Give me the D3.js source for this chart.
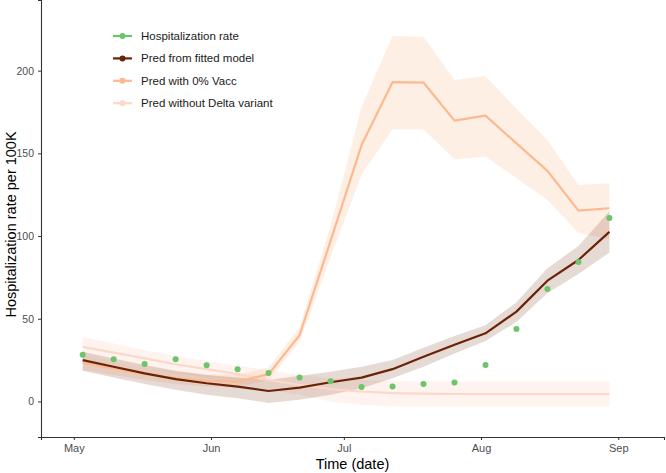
<!DOCTYPE html>
<html>
<head>
<meta charset="utf-8">
<script src="https://cdn.jsdelivr.net/npm/d3@7"></script>
<style>
  html, body { margin: 0; padding: 0; background: #fff; }
  svg { display: block; font-family: "Liberation Sans", Arial, sans-serif; }
</style>
</head>
<body>
<svg id="chart" width="666" height="473"></svg>
<script>
// ---- data (weekly, starting May 3, 2021) ----
const weekStarts = ["2021-05-03","2021-05-10","2021-05-17","2021-05-24","2021-05-31","2021-06-07",
  "2021-06-14","2021-06-21","2021-06-28","2021-07-05","2021-07-12","2021-07-19","2021-07-26",
  "2021-08-02","2021-08-09","2021-08-16","2021-08-23","2021-08-30"];

const hospRate = [28.3, 25.5, 22.7, 25.5, 21.9, 19.5, 17.2, 14.4, 12.2, 8.8, 9.0, 10.6, 11.4, 22.1, 43.8, 68.0, 84.3, 110.9];

const fitted      = [25.0, 21.0, 17.0, 13.5, 11.0, 9.0, 6.3, 8.4, 11.6, 14.4, 19.5, 27.0, 34.3, 41.2, 54.3, 73.0, 85.5, 102.5];
const fittedLow   = [18.5, 14.5, 10.5, 7.0, 4.0, 2.0, -1.0, 1.0, 4.0, 8.0, 14.0, 21.0, 29.0, 36.5, 48.0, 65.5, 77.0, 90.0];
const fittedHigh  = [30.0, 26.0, 22.0, 18.5, 16.0, 14.5, 13.0, 15.5, 18.0, 21.0, 25.0, 32.5, 39.5, 46.0, 60.0, 80.5, 94.0, 115.0];

const noVacc      = [23.5, 20.0, 16.5, 14.0, 12.5, 12.0, 16.5, 40.0, 97.0, 155.0, 193.0, 192.8, 169.8, 172.8, 156.0, 139.4, 115.4, 116.8];
const noVaccLow   = [19.0, 16.0, 13.0, 10.5, 9.0, 8.5, 13.0, 36.0, 87.0, 137.0, 164.6, 164.4, 146.4, 148.0, 135.0, 121.8, 101.9, 98.0];
const noVaccHigh  = [28.0, 24.0, 20.5, 18.0, 16.5, 16.0, 20.5, 45.0, 106.0, 178.0, 221.0, 220.5, 194.4, 196.8, 177.0, 158.0, 130.9, 131.9];

const noDelta     = [33.0, 29.5, 26.0, 22.5, 19.5, 16.5, 13.0, 10.0, 7.5, 6.0, 5.0, 4.7, 4.5, 4.5, 4.5, 4.5, 4.5, 4.5];
const noDeltaLow  = [28.0, 24.0, 20.5, 17.0, 14.0, 11.0, 7.0, 4.0, 0.0, -2.0, -3.0, -3.0, -3.0, -3.0, -3.0, -3.0, -3.0, -3.0];
const noDeltaHigh = [39.0, 35.0, 31.0, 27.5, 24.5, 21.5, 19.0, 16.0, 14.0, 13.0, 12.5, 12.0, 12.0, 12.0, 12.0, 12.0, 12.0, 12.0];

const yTicks = [0, 50, 100, 150, 200];
const xTickDates = ["2021-05-01","2021-06-01","2021-07-01","2021-08-01","2021-09-01"];
const xTickLabels = ["May","Jun","Jul","Aug","Sep"];

const legendLabels = ["Hospitalization rate","Pred from fitted model","Pred with 0% Vacc","Pred without Delta variant"];
const colors = ["#6cc46b","#6b2307","#fcb98f","#fbd8c8"];

// ---- layout ----
const W = 666, H = 473;
const margin = {left: 41, right: 2, top: 0, bottom: 36};
const svg = d3.select("#chart");

const parse = d3.utcParse("%Y-%m-%d");
const dates = weekStarts.map(parse);

const x = d3.scaleUtc()
  .domain([new Date(Date.UTC(2021,3,23,14)), new Date(Date.UTC(2021,8,11,8))])
  .range([margin.left, W - margin.right]);
const y = d3.scaleLinear()
  .domain([-21.5, 242.7])
  .range([H - margin.bottom, margin.top]);

const rows = dates.map((d,i) => ({d, i}));

function ribbon(lo, hi, fill, op) {
  svg.append("path")
    .datum(rows)
    .attr("fill", fill)
    .attr("fill-opacity", op)
    .attr("d", d3.area().x(r => x(r.d)).y0(r => y(lo[r.i])).y1(r => y(hi[r.i])));
}
function line(vals, stroke, w) {
  svg.append("path")
    .datum(rows)
    .attr("fill", "none")
    .attr("stroke", stroke)
    .attr("stroke-width", w)
    .attr("stroke-linejoin", "round")
    .attr("d", d3.line().x(r => x(r.d)).y(r => y(vals[r.i])));
}

// ribbons
ribbon(noDeltaLow, noDeltaHigh, "#fbd0bd", 0.25);
ribbon(noVaccLow, noVaccHigh, "#fcc9a8", 0.3);
ribbon(fittedLow, fittedHigh, "#6b2307", 0.17);

// lines
line(noDelta, colors[3], 2.2);
line(noVacc, colors[2], 2.2);
line(fitted, colors[1], 2.2);

// points
svg.append("g").selectAll("circle")
  .data(rows).join("circle")
  .attr("cx", r => x(r.d))
  .attr("cy", r => y(hospRate[r.i]))
  .attr("r", 3)
  .attr("fill", colors[0]);

// axes
const xAxis = d3.axisBottom(x)
  .tickValues(xTickDates.map(parse))
  .tickFormat((d,i) => xTickLabels[i])
  .tickSize(3).tickPadding(4);
const gx = svg.append("g")
  .attr("transform", `translate(0,${H - margin.bottom})`)
  .call(xAxis);
gx.select(".domain").attr("stroke", "#333").attr("stroke-width", 1.1);
gx.selectAll(".tick line").attr("stroke", "#333");
gx.selectAll(".tick text").attr("fill", "#4d4d4d").attr("font-size", 11)
  .attr("font-family", "Liberation Sans, Arial, sans-serif");

const yAxis = d3.axisLeft(y).tickValues(yTicks).tickSize(3).tickPadding(4);
const gy = svg.append("g")
  .attr("transform", `translate(${margin.left},0)`)
  .call(yAxis);
gy.select(".domain").attr("stroke", "#333").attr("stroke-width", 1.1);
gy.selectAll(".tick line").attr("stroke", "#333");
gy.selectAll(".tick text").attr("fill", "#4d4d4d").attr("font-size", 10.5)
  .attr("font-family", "Liberation Sans, Arial, sans-serif");

// axis titles
svg.append("text")
  .attr("x", (margin.left + W - margin.right) / 2)
  .attr("y", 469)
  .attr("text-anchor", "middle")
  .attr("font-size", 14.5)
  .attr("fill", "#000")
  .text("Time (date)");
svg.append("text")
  .attr("transform", `translate(16,${(H - margin.bottom) / 2 + 6}) rotate(-90)`)
  .attr("text-anchor", "middle")
  .attr("font-size", 14.5)
  .attr("fill", "#000")
  .text("Hospitalization rate per 100K");

// legend
const leg = svg.append("g");
legendLabels.forEach((lab, i) => {
  const ly = 36 + i * 22.4;
  leg.append("line").attr("x1", 113).attr("x2", 132).attr("y1", ly).attr("y2", ly)
    .attr("stroke", colors[i]).attr("stroke-width", 2.2);
  leg.append("circle").attr("cx", 122.5).attr("cy", ly).attr("r", 3).attr("fill", colors[i]);
  leg.append("text").attr("x", 141).attr("y", ly + 4)
    .attr("font-size", 11.5).attr("fill", "#1a1a1a").text(lab);
});
</script>
</body>
</html>
